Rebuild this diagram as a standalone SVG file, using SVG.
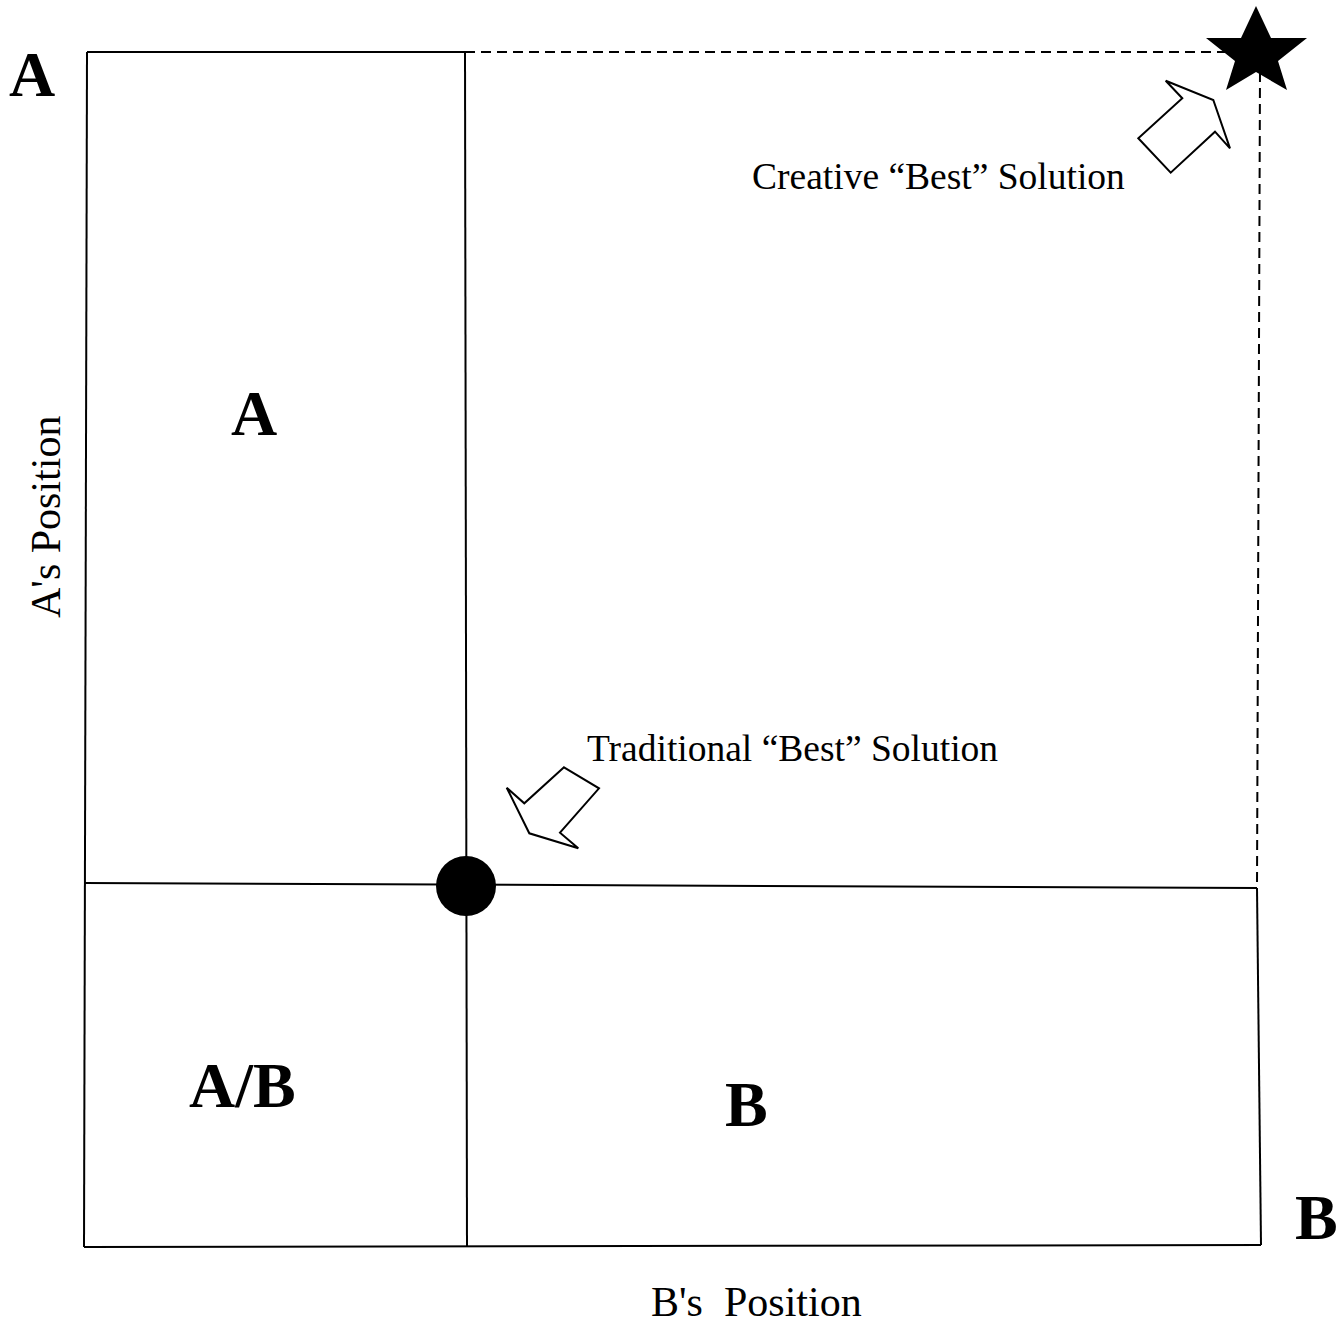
<svg xmlns="http://www.w3.org/2000/svg" width="1343" height="1324" viewBox="0 0 1343 1324">
<style>
.ln{stroke:#000;stroke-width:2;fill:none}
.dash{stroke:#000;stroke-width:2;fill:none;stroke-dasharray:10,6}
.big{font-family:"Liberation Serif",serif;font-weight:bold;font-size:64px;fill:#000}
.lab{font-family:"Liberation Serif",serif;font-size:37.5px;fill:#000}
.ax{font-family:"Liberation Serif",serif;font-size:42px;fill:#000}
.arr{fill:#fff;stroke:#000;stroke-width:2;stroke-linejoin:miter}
</style>
<rect width="1343" height="1324" fill="#fff"/>
<g id="connectors">
<line class="ln" x1="87" y1="52" x2="84" y2="1247"/>
<line class="ln" x1="84" y1="1247" x2="1261" y2="1245"/>
<line class="ln" x1="1261" y1="1245" x2="1257" y2="888"/>
<line class="ln" x1="87" y1="52" x2="465" y2="52"/>
<line class="ln" x1="465" y1="52" x2="467" y2="1247"/>
<line class="ln" x1="84" y1="883" x2="1257" y2="888"/>
<line class="dash" x1="465" y1="52" x2="1225" y2="52"/>
<line class="dash" x1="1260" y1="72" x2="1257" y2="888"/>
</g>
<g id="star"><polygon points="1256,6 1271,38 1307,38 1278,61 1287,90 1256,72 1226,90 1235,61 1206,38 1241,38" fill="#000"/></g>
<g id="dot"><circle cx="466" cy="886" r="30" fill="#000"/></g>
<g id="creative-arrow"><polygon class="arr" points="1165.7,80.7 1213.3,100 1230,148.3 1215,131.7 1170.7,172.7 1138.3,138.3 1182.3,98.3"/></g>
<g id="traditional-arrow"><polygon class="arr" points="564,767.3 599,788.3 560,832.7 578.3,848.3 529.3,833.3 506.7,787.7 524.3,803.3"/></g>
<g id="labels">
<text class="big" x="9" y="96">A</text>
<text class="big" x="231" y="435">A</text>
<text class="big" x="189" y="1107">A/B</text>
<text class="big" x="725" y="1126">B</text>
<text class="big" x="1295" y="1239">B</text>
<text class="lab" x="752" y="189">Creative “Best” Solution</text>
<text class="lab" x="587" y="761">Traditional “Best” Solution</text>
<text class="ax" x="651" y="1316" xml:space="preserve">B's  Position</text>
<text class="ax" transform="translate(60,618) rotate(-90)">A's Position</text>
</g>
</svg>
